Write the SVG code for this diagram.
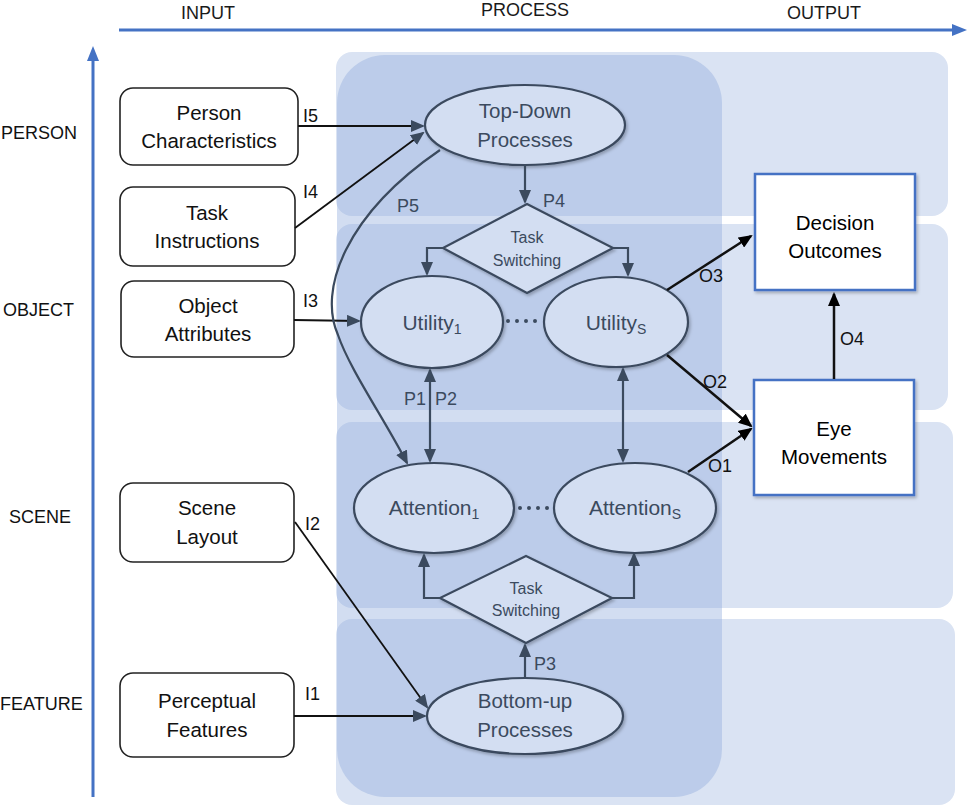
<svg xmlns="http://www.w3.org/2000/svg" width="968" height="807" viewBox="0 0 968 807">
<style>
text{font-family:"Liberation Sans",Arial,sans-serif;}
.band{fill:#dae3f3;}
.col{fill:#8faadc;fill-opacity:0.4;}
.ax{stroke:#4472c4;stroke-width:3;fill:none;}
.axl{font-size:18px;fill:#1a1a1a;text-anchor:middle;}
.row{font-size:18px;fill:#111;}
.inbox{fill:#ffffff;stroke:#222;stroke-width:1.6;}
.intx{font-size:20.5px;fill:#111;text-anchor:middle;}
.ell{fill:#d3def2;stroke:#3b4a5e;stroke-width:2.2;filter:url(#sh);}
.etx{font-size:20.5px;fill:#3b4a5e;text-anchor:middle;}
.etx2{font-size:21px;fill:#3b4a5e;text-anchor:middle;}
.dtx{font-size:16px;fill:#3b4a5e;text-anchor:middle;}
.outbox{fill:#ffffff;stroke:#4472c4;stroke-width:2.5;filter:url(#sh);}
.otx{font-size:20.5px;fill:#000;text-anchor:middle;}
.pc{stroke:#3b4a5e;stroke-width:2.2;fill:none;marker-end:url(#ah);}
.pcd{stroke:#3b4a5e;stroke-width:2.2;fill:none;marker-end:url(#ah);marker-start:url(#ah);}
.ic{stroke:#111;stroke-width:1.8;fill:none;marker-end:url(#ah);}
.oc{stroke:#111;stroke-width:2.5;fill:none;marker-end:url(#ahk);}
.lbl{font-size:18px;fill:#111;}
.plb{font-size:18px;fill:#3b4a5e;}
.dots{stroke:#3b4a5e;stroke-width:4;stroke-linecap:round;stroke-dasharray:0 9;fill:none;}
</style>
<defs>
<filter id="sh" x="-10%" y="-10%" width="125%" height="130%">
<feDropShadow dx="1.5" dy="2" stdDeviation="1.5" flood-color="#000" flood-opacity="0.25"/>
</filter>
<marker id="ah" viewBox="0 0 14 12" refX="12" refY="6" markerWidth="14" markerHeight="12" markerUnits="userSpaceOnUse" orient="auto-start-reverse">
<path d="M0,0 L14,6 L0,12 z" fill="#3b4a5e"/>
</marker>
<marker id="ahk" viewBox="0 0 14 12" refX="12" refY="6" markerWidth="14" markerHeight="12" markerUnits="userSpaceOnUse" orient="auto">
<path d="M0,0 L14,6 L0,12 z" fill="#000"/>
</marker>
</defs>

<g id="background">
<rect class="band" x="336" y="52" width="612" height="164" rx="16"/>
<rect class="band" x="336" y="224" width="612" height="186" rx="16"/>
<rect class="band" x="336" y="422" width="617" height="186" rx="16"/>
<rect class="band" x="336" y="619" width="619" height="186" rx="16"/>
<rect class="col" x="337" y="55" width="385" height="742" rx="48"/>
</g>

<g id="axes">
<line class="ax" x1="119" y1="30" x2="953" y2="30"/>
<polygon points="952,24 967,30 952,36" fill="#4472c4"/>
<line class="ax" x1="93" y1="797" x2="93" y2="60"/>
<polygon points="87,61 93,46 99,61" fill="#4472c4"/>
<text class="axl" x="208" y="19">INPUT</text>
<text class="axl" x="525" y="16">PROCESS</text>
<text class="axl" x="824" y="19">OUTPUT</text>
<text class="row" x="1" y="139">PERSON</text>
<text class="row" x="3" y="316">OBJECT</text>
<text class="row" x="9" y="523">SCENE</text>
<text class="row" x="0" y="710">FEATURE</text>
</g>

<g id="person-characteristics">
<rect class="inbox" x="120" y="88" width="178" height="77" rx="13"/>
<text class="intx" x="209" y="120">Person</text>
<text class="intx" x="209" y="148">Characteristics</text>
</g>
<g id="task-instructions">
<rect class="inbox" x="120" y="187" width="175" height="79" rx="13"/>
<text class="intx" x="207" y="220">Task</text>
<text class="intx" x="207" y="248">Instructions</text>
</g>
<g id="object-attributes">
<rect class="inbox" x="121" y="281" width="173" height="76" rx="13"/>
<text class="intx" x="208" y="313">Object</text>
<text class="intx" x="208" y="341">Attributes</text>
</g>
<g id="scene-layout">
<rect class="inbox" x="120" y="483" width="174" height="79" rx="13"/>
<text class="intx" x="207" y="515">Scene</text>
<text class="intx" x="207" y="544">Layout</text>
</g>
<g id="perceptual-features">
<rect class="inbox" x="120" y="673" width="174" height="84" rx="13"/>
<text class="intx" x="207" y="708">Perceptual</text>
<text class="intx" x="207" y="737">Features</text>
</g>

<g id="top-down">
<ellipse class="ell" cx="525" cy="125" rx="100" ry="40"/>
<text class="etx" x="525" y="118">Top-Down</text>
<text class="etx" x="525" y="147">Processes</text>
</g>
<g id="task-switching-1">
<polygon class="ell" points="527,204 613,248 527,293 443,248"/>
<text class="dtx" x="527" y="243">Task</text>
<text class="dtx" x="527" y="266">Switching</text>
</g>
<g id="utility-1">
<ellipse class="ell" cx="432" cy="322" rx="71" ry="46"/>
<text class="etx2" x="432" y="330">Utility<tspan font-size="14" dy="4">1</tspan></text>
</g>
<g id="utility-s">
<ellipse class="ell" cx="616" cy="322" rx="72" ry="45"/>
<text class="etx2" x="616" y="330">Utility<tspan font-size="14" dy="4">S</tspan></text>
</g>
<g id="attention-1">
<ellipse class="ell" cx="434" cy="508" rx="80" ry="45"/>
<text class="etx2" x="434" y="515">Attention<tspan font-size="14" dy="4">1</tspan></text>
</g>
<g id="attention-s">
<ellipse class="ell" cx="635" cy="508" rx="81" ry="45"/>
<text class="etx2" x="635" y="515">Attention<tspan font-size="14" dy="4">S</tspan></text>
</g>
<g id="task-switching-2">
<polygon class="ell" points="526,556 612,598 526,643 440,598"/>
<text class="dtx" x="526" y="594">Task</text>
<text class="dtx" x="526" y="616">Switching</text>
</g>
<g id="bottom-up">
<ellipse class="ell" cx="525" cy="716" rx="98" ry="38"/>
<text class="etx" x="525" y="708">Bottom-up</text>
<text class="etx" x="525" y="737">Processes</text>
</g>
<g id="decision-outcomes">
<rect class="outbox" x="755" y="174" width="160" height="116"/>
<text class="otx" x="835" y="230">Decision</text>
<text class="otx" x="835" y="258">Outcomes</text>
</g>
<g id="eye-movements">
<rect class="outbox" x="754" y="380" width="160" height="115"/>
<text class="otx" x="834" y="436">Eye</text>
<text class="otx" x="834" y="464">Movements</text>
</g>

<g id="connectors">
<path class="ic" d="M298,126 L423,126"/>
<path class="ic" d="M295,228 L423,133"/>
<path class="ic" d="M294,320 L359,321"/>
<path class="ic" d="M295,522 L427,707"/>
<path class="ic" d="M294,716 L425,716"/>
<path class="pc" d="M440,150 C345,215 318,290 338,335 C350,370 385,420 407,463"/>
<path class="pc" d="M525,165 L525,202"/>
<path class="pc" d="M443,248 H427 V274"/>
<path class="pc" d="M613,248 H628 V275"/>
<path class="pcd" d="M430,370 V461"/>
<path class="pcd" d="M623,369 V461"/>
<path class="pc" d="M440,598 H424 V555"/>
<path class="pc" d="M612,598 H634 V554"/>
<path class="pc" d="M525,678 V645"/>
<path class="oc" d="M667,290 L751,236"/>
<path class="oc" d="M667,355 L751,426"/>
<path class="oc" d="M688,472 L751,429"/>
<path class="oc" d="M834,379 V294"/>
<path class="dots" d="M508,321 H542"/>
<path class="dots" d="M520,508 H550"/>
<text class="lbl" x="303" y="122">I5</text>
<text class="lbl" x="303" y="198">I4</text>
<text class="lbl" x="303" y="307">I3</text>
<text class="lbl" x="305" y="530">I2</text>
<text class="lbl" x="305" y="700">I1</text>
<text class="plb" x="397" y="212">P5</text>
<text class="plb" x="543" y="207">P4</text>
<text class="plb" x="404" y="405">P1</text>
<text class="plb" x="435" y="405">P2</text>
<text class="plb" x="534" y="670">P3</text>
<text class="lbl" x="699" y="282">O3</text>
<text class="lbl" x="703" y="388">O2</text>
<text class="lbl" x="708" y="472">O1</text>
<text class="lbl" x="840" y="345">O4</text>
</g>
</svg>
